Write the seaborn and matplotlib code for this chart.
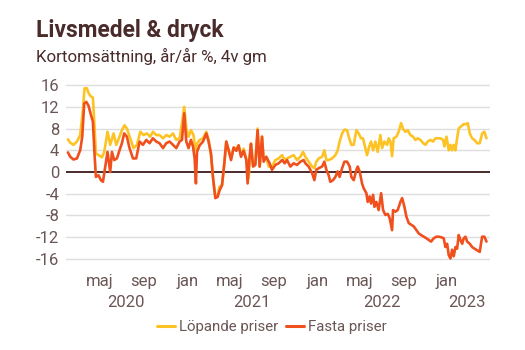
import numpy as np
import pandas as pd
import matplotlib
matplotlib.use("Agg")
import matplotlib.pyplot as plt
import seaborn as sns
from matplotlib.lines import Line2D

# ---- data (time in months since 2020-01-01, values in %) ----
lop_months = [1.02, 1.23, 1.53, 1.85, 2.15, 2.40, 2.55, 2.77, 2.92, 3.14, 3.32, 3.44, 3.60, 3.84, 4.16, 4.37,
              4.67, 4.92, 5.23, 5.48, 5.78, 6.00, 6.24, 6.46, 6.77, 7.07, 7.39, 7.69, 8.00, 8.31, 8.61, 8.86,
              9.17, 9.47, 9.79, 10.09, 10.40, 10.71, 11.02, 11.32, 11.54, 11.75, 11.94, 12.15, 12.37, 12.61,
              12.77, 12.93, 13.17, 13.48, 13.79, 14.00, 14.22, 14.46, 14.62, 14.83, 15.01, 15.24, 15.45, 15.63,
              15.85, 16.07, 16.31, 16.56, 16.77, 16.99, 17.23, 17.48, 17.69, 17.91, 18.10, 18.31, 18.52, 18.71,
              18.93, 19.08, 19.32, 19.54, 19.85, 20.16, 20.46, 20.78, 21.02, 21.24, 21.54, 21.85, 22.16, 22.47,
              22.71, 22.93, 23.23, 23.55, 23.76, 23.94, 24.16, 24.47, 24.68, 24.87, 25.08, 25.39, 25.70, 25.91,
              26.09, 26.32, 26.53, 26.78, 26.93, 27.17, 27.39, 27.64, 27.85, 28.07, 28.25, 28.47, 28.62, 28.81,
              28.99, 29.18, 29.39, 29.60, 29.85, 30.01, 30.22, 30.47, 30.62, 30.78, 30.93, 31.08, 31.33, 31.54,
              31.76, 31.95, 32.16, 32.37, 32.62, 32.87, 33.08, 33.30, 33.55, 33.80, 34.01, 34.22, 34.47, 34.72,
              34.93, 35.14, 35.39, 35.64, 35.76, 35.95, 36.16, 36.32, 36.47, 36.62, 36.78, 36.93, 37.08, 37.30,
              37.54, 37.79, 37.91, 38.10, 38.32, 38.53, 38.78, 39.02, 39.24, 39.45, 39.64]
lop_values = [6.0, 5.4, 5.0, 5.6, 6.8, 11.4, 15.4, 15.4, 14.5, 13.9, 13.7, 9.6, 3.4, 3.1, 2.7, 3.7,
              7.4, 5.0, 7.1, 5.0, 6.5, 7.7, 8.6, 8.0, 6.2, 4.4, 5.0, 7.4, 6.8, 7.1, 6.5, 7.4,
              6.8, 6.8, 6.2, 6.8, 6.5, 7.1, 5.9, 6.2, 9.0, 12.0, 8.0, 6.5, 7.7, 6.8,
              4.0, 5.2, 5.9, 6.2, 7.4, 5.9, 3.1, -2.1, -4.5, -4.3, -2.7, -2.4, 1.6, 5.6,
              4.0, 2.5, 4.5, 4.3, 4.9, 3.1, 4.3, 2.5, -1.1, 5.2, 1.4, 1.5, 8.0, 1.0,
              6.5, 2.2, 2.8, 1.0, 1.0, 2.2, 2.5, 3.1, 2.2, 2.5, 2.8, 3.1, 2.2, 2.8,
              3.7, 2.8, 1.9, 1.0, 0.7, 1.9, 2.5, 2.8, 4.0, 2.2, 2.2, 2.5, 3.1, 4.0,
              5.6, 7.1, 7.8, 7.7, 6.5, 5.0, 5.0, 7.7, 7.1, 6.2, 6.2, 4.4, 3.1, 4.6,
              5.6, 4.0, 5.6, 3.7, 6.8, 4.4, 5.6, 5.0, 6.2, 5.6, 2.9, 6.2, 6.5, 7.4,
              9.0, 7.9, 7.4, 7.7, 6.8, 6.5, 5.9, 6.2, 5.9, 5.3, 5.0, 5.6, 5.9, 5.6,
              6.2, 6.2, 6.2, 5.9, 4.7, 6.5, 4.0, 5.0, 4.0, 5.0, 4.0, 6.2, 8.0, 8.4,
              8.8, 8.8, 9.0, 7.1, 6.2, 5.9, 5.3, 5.3, 7.1, 7.4, 6.2]

fas_months = [1.02, 1.23, 1.53, 1.85, 2.15, 2.34, 2.52, 2.71, 2.92, 3.14, 3.32, 3.47, 3.60, 3.84, 4.06, 4.25,
              4.46, 4.67, 4.92, 5.08, 5.29, 5.54, 5.78, 6.00, 6.21, 6.46, 6.70, 7.02, 7.32, 7.63, 7.94, 8.25,
              8.55, 8.86, 9.17, 9.47, 9.79, 10.09, 10.40, 10.71, 11.02, 11.32, 11.54, 11.75, 11.94, 12.15,
              12.37, 12.56, 12.71, 12.83, 12.93, 13.17, 13.48, 13.79, 14.00, 14.22, 14.40, 14.62, 14.83, 15.01,
              15.24, 15.45, 15.63, 15.85, 16.07, 16.31, 16.56, 16.77, 16.99, 17.23, 17.48, 17.60, 17.78, 17.91,
              18.10, 18.31, 18.52, 18.71, 18.93, 19.08, 19.32, 19.63, 19.85, 20.16, 20.46, 20.78, 21.02, 21.24,
              21.54, 21.85, 22.16, 22.47, 22.77, 22.93, 23.23, 23.55, 23.76, 23.94, 24.16, 24.47, 24.68, 24.87,
              25.08, 25.23, 25.48, 25.70, 25.91, 26.09, 26.32, 26.53, 26.78, 27.02, 27.17, 27.39, 27.64, 27.76,
              27.94, 28.16, 28.31, 28.56, 28.68, 28.86, 28.99, 29.18, 29.30, 29.48, 29.69, 29.92, 30.10, 30.31,
              30.53, 30.71, 30.93, 31.02, 31.24, 31.45, 31.70, 31.86, 32.07, 32.25, 32.47, 32.69, 32.93, 33.18,
              33.39, 33.61, 33.85, 34.10, 34.31, 34.53, 34.77, 35.02, 35.24, 35.46, 35.70, 35.85, 36.01, 36.16,
              36.32, 36.47, 36.62, 36.78, 36.93, 37.08, 37.24, 37.40, 37.54, 37.70, 37.86, 38.10, 38.32, 38.53,
              38.78, 39.02, 39.24, 39.45, 39.64]
fas_values = [3.6, 2.8, 2.3, 2.5, 4.0, 6.5, 12.6, 12.9, 12.2, 10.5, 9.3, 3.4, -0.9, -0.6, -1.5, -1.8,
              1.0, 3.7, 0.0, 3.7, 2.2, 2.5, 4.0, 5.3, 7.1, 6.5, 4.4, 2.5, 2.5, 5.6, 5.0, 5.9,
              5.3, 6.2, 5.6, 5.3, 4.4, 5.3, 5.6, 5.0, 4.4, 5.6, 5.9, 10.8, 5.6, 4.4,
              5.9, 4.7, 2.5, -2.1, 3.7, 4.9, 5.6, 7.1, 5.6, 3.4, -0.9, -4.8, -4.6, -3.4,
              -2.4, 1.6, 5.6, 4.0, 2.2, 4.5, 3.9, 4.9, 2.8, 3.9, 2.2, -2.1, 2.8, 5.2,
              1.0, 1.3, 7.7, 1.0, 6.5, 1.9, 2.8, 1.6, 0.4, 1.3, 1.6, 2.2, 1.6, 2.2,
              1.0, 1.6, 1.3, 1.9, 2.2, 1.6, 1.0, -0.2, -1.5, 0.4, 0.7, 1.0, 1.9, 0.4,
              -0.6, -1.8, -1.5, -0.9, 0.1, -0.9, 0.7, 1.9, 1.9, 1.0, -0.9, -1.5, 0.4, 1.0,
              0.1, -2.1, -3.0, -3.9, -5.5, -4.5, -5.8, -4.2, -6.4, -5.5, -7.0, -3.9, -7.0, -7.9,
              -7.7, -8.5, -10.7, -7.0, -7.3, -7.0, -5.5, -4.8, -6.4, -8.2, -9.4, -9.7, -10.0, -10.7,
              -11.3, -11.6, -11.9, -12.2, -12.5, -12.8, -12.2, -11.9, -11.9, -12.0, -12.2, -13.8, -13.2, -15.3,
              -15.9, -14.3, -15.5, -13.8, -14.1, -11.6, -12.5, -13.2, -12.2, -11.9, -12.8, -13.2, -13.8, -14.1,
              -14.4, -14.7, -11.9, -11.9, -12.8]

series_names = ["Löpande priser", "Fasta priser"]
y_ticks = [-16, -12, -8, -4, 0, 4, 8, 12, 16]
month_ticks = ["2020-05-01", "2020-09-01", "2021-01-01", "2021-05-01", "2021-09-01",
               "2022-01-01", "2022-05-01", "2022-09-01", "2023-01-01"]
month_labels = ["maj", "sep", "jan", "maj", "sep", "jan", "maj", "sep", "jan"]
year_ticks = ["2020-07-12", "2021-07-01", "2022-07-01", "2023-02-26"]
year_labels = ["2020", "2021", "2022", "2023"]
title = "Livsmedel & dryck"
subtitle = "Kortomsättning, år/år %, 4v gm"

# ---- build frame ----
origin = pd.Timestamp("2020-01-01")
def to_dates(m):
    return origin + pd.to_timedelta(np.array(m) * 30.4375, unit="D")

df = pd.concat([
    pd.DataFrame({"date": to_dates(lop_months), "value": lop_values, "serie": series_names[0]}),
    pd.DataFrame({"date": to_dates(fas_months), "value": fas_values, "serie": series_names[1]}),
])

sns.set_theme(style="white")
plt.rcParams["font.family"] = ["Roboto", "DejaVu Sans"]

txt = "#4a2b2b"
tick_c = "#6b5656"
colors = {series_names[0]: "#FDC324", series_names[1]: "#F0501E"}

fig = plt.figure(figsize=(5.25, 3.5), dpi=100)
ax = fig.add_axes([0.126, 0.2554, 0.807, 0.5063])

for yv in y_ticks:
    if yv != 0:
        ax.axhline(yv, color="#dedede", lw=1.0, zorder=0)
ax.axhline(0, color="#4a2b2b", lw=1.4, zorder=1)

sns.lineplot(data=df, x="date", y="value", hue="serie", palette=colors,
             hue_order=series_names, lw=1.9, ax=ax, legend=False, zorder=3)

ax.set_xlim(pd.Timestamp("2020-01-27"), pd.Timestamp("2023-05-01"))
ax.set_ylim(-16.3, 16.3)
ax.set_yticks(y_ticks)
ax.set_yticklabels([str(v) for v in y_ticks])
ax.set_xticks(pd.to_datetime(month_ticks))
ax.set_xticklabels(month_labels)
ax.set_xticks(pd.to_datetime(year_ticks), minor=True)
ax.set_xticklabels(year_labels, minor=True)
ax.tick_params(axis="x", which="major", length=0, pad=10, labelsize=12, labelcolor=tick_c)
ax.tick_params(axis="x", which="minor", length=0, pad=25, labelsize=12, labelcolor=tick_c)
ax.tick_params(axis="y", length=0, pad=5, labelsize=12, labelcolor=tick_c)
ax.set_xlabel("")
ax.set_ylabel("")
for s in ax.spines.values():
    s.set_visible(False)

handles = [Line2D([0], [0], color=colors[n], lw=2.2) for n in series_names]
fig.legend(handles, series_names, loc="center", bbox_to_anchor=(0.518, 0.066),
           ncol=2, frameon=False, fontsize=10.8, handlelength=1.2, handletextpad=0.25,
           columnspacing=0.5, labelcolor=tick_c)

fig.text(0.069, 0.895, title, fontsize=16.4, fontweight="bold", color=txt, va="baseline", ha="left")
fig.text(0.069, 0.824, subtitle, fontsize=12.2, color=txt, va="baseline", ha="left")

fig.savefig("out.png", dpi=100, facecolor="white")
